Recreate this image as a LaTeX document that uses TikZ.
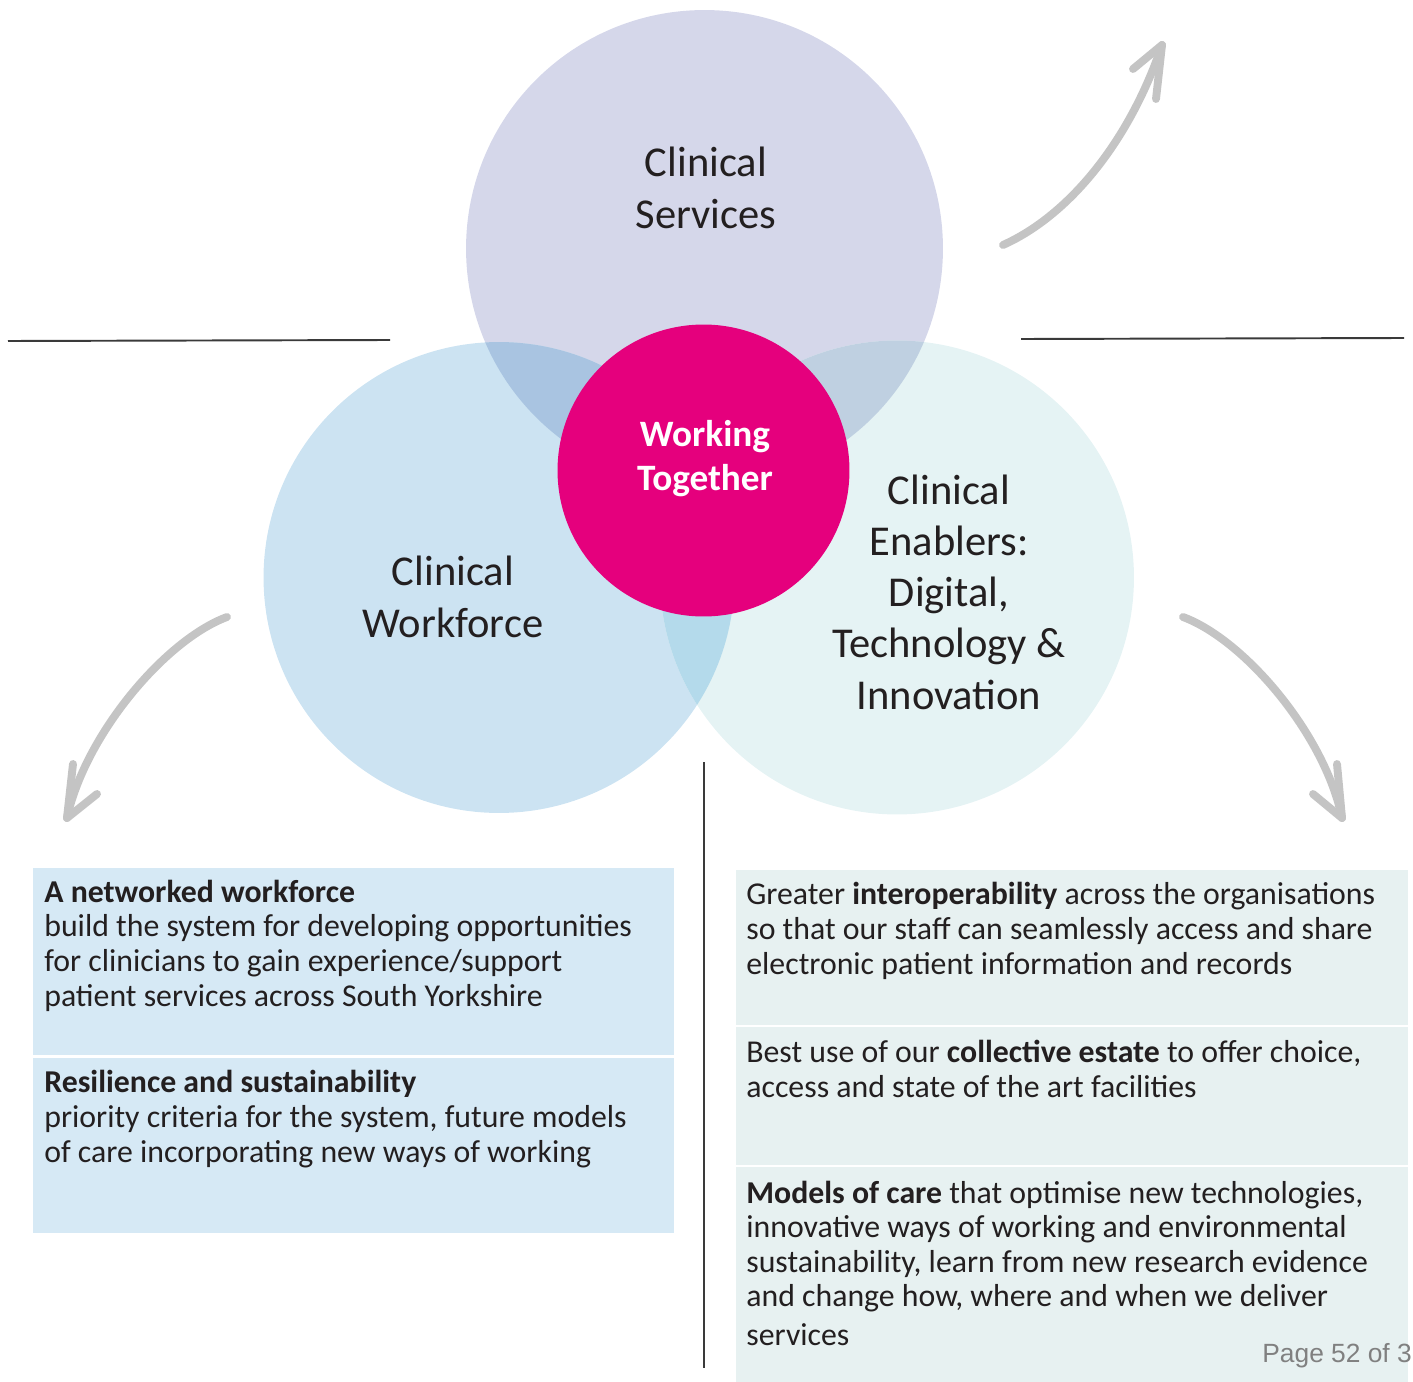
\documentclass[tikz,border=0pt]{standalone}
\usepackage{fontspec}
\setmainfont{Carlito}
\newfontfamily\pagefont{Liberation Sans}
\definecolor{services}{HTML}{D5D7EA}
\definecolor{workforce}{HTML}{CCE3F2}
\definecolor{enablers}{HTML}{E5F3F4}
\definecolor{servwork}{HTML}{A9C4E1}
\definecolor{servenab}{HTML}{BFD0E1}
\definecolor{workenab}{HTML}{B4DAEB}
\definecolor{hubpink}{HTML}{E5007D}
\definecolor{leftpanel}{HTML}{D6E9F5}
\definecolor{rightpanel}{HTML}{E7F1F1}
\definecolor{ink}{HTML}{231F20}
\definecolor{arrowgray}{HTML}{C4C4C4}
\definecolor{rulegray}{HTML}{3A3A3A}
\definecolor{pagegray}{HTML}{808080}
\tikzset{ disc/.style = { circle
                        , inner sep    = 0pt
                        , minimum size = #1
                        },
          circtext/.style = { align = center
                            , text  = ink
                            , font  = \fontsize{24.2pt}{29.2pt}\selectfont
                            },
          boxtext/.style = { anchor    = base west
                           , align     = left
                           , inner sep = 0pt
                           , text      = ink
                           , font      = \fontsize{18.1pt}{19.7pt}\selectfont
                           },
          sweep/.style = { draw       = arrowgray
                         , line width = 4.5pt
                         , line cap   = round
                         , line join  = round
                         },
          rule/.style = { draw = rulegray, line width = 1.1pt }
        }
\begin{document}
\begin{tikzpicture}[x=0.02cm, y=-0.02cm]
  \useasboundingbox (0,0) rectangle (1413,1382);
  \node[disc=9.54cm, fill=services]  (serv) at (704.5,248.5) {};
  \node[disc=9.42cm, fill=workforce] (work) at (499,577.5) {};
  \node[disc=9.48cm, fill=enablers]  (enab) at (897,577.5) {};
  \foreach \a/\ra/\b/\rb/\c in {serv/4.77cm/work/4.71cm/servwork,
                                serv/4.77cm/enab/4.74cm/servenab,
                                work/4.71cm/enab/4.74cm/workenab} {
    \begin{scope}
      \clip (\a.center) circle[radius=\ra];
      \fill[\c] (\b.center) circle[radius=\rb];
    \end{scope}
  }
  \node[disc=5.84cm, fill=hubpink] (hub) at (703.5,470.5) {};

  \node[circtext] (servlabel) at (706,188) {Clinical\\Services};
  \node[circtext] (worklabel) at (453,597) {Clinical\\Workforce};
  \node[circtext] (enablabel) at (949,592)
       {Clinical\\Enablers:\\Digital,\\Technology \&\\Innovation};
  \node[align=center, text=white, font=\bfseries\fontsize{21.2pt}{25pt}\selectfont]
       (hublabel) at (705,459) {Working\\Together};

  % sweeping arrows
  \coordinate (upfrom) at (1003,245);  \coordinate (uptip) at (1162,45);
  \coordinate (lfrom)  at (227,617);   \coordinate (ltip)  at (67,818);
  \coordinate (rfrom)  at (1183,617);  \coordinate (rtip)  at (1342,818);
  \draw[sweep] (upfrom) .. controls (1070,215) and (1130,140) .. (uptip);
  \draw[sweep] (1133,69) -- (uptip) -- (1156,99);
  \draw[sweep] (lfrom) .. controls (165,640) and (85,735) .. (ltip);
  \draw[sweep] (73,764) -- (ltip) -- (97,794);
  \draw[sweep] (rfrom) .. controls (1245,640) and (1325,735) .. (rtip);
  \draw[sweep] (1337,764) -- (rtip) -- (1313,794);

  % rules
  \coordinate (lr1) at (8,341);    \coordinate (lr2) at (390,340);
  \coordinate (rr1) at (1021,339); \coordinate (rr2) at (1404,338);
  \coordinate (vr1) at (704,762);  \coordinate (vr2) at (704,1368);
  \draw[rule] (lr1) -- (lr2);
  \draw[rule] (rr1) -- (rr2);
  \draw[rulegray, line width=0.8pt] (vr1) -- (vr2);

  % panels
  \foreach \t/\b in {868/1055, 1058/1233}
    \fill[leftpanel] (33,\t) rectangle (674,\b);
  \foreach \t/\b in {870/1025, 1027/1165, 1167/1382}
    \fill[rightpanel] (736,\t) rectangle (1408,\b);

  % text nodes sit on the baseline of their last line
  \node[boxtext] (network) at (44,1006)
       {\textbf{A networked workforce}\\
        build the system for developing opportunities\\
        for clinicians to gain experience/support\\
        patient services across South Yorkshire};
  \node[boxtext] (resilience) at (44,1162)
       {\textbf{Resilience and sustainability}\\
        priority criteria for the system, future models\\
        of care incorporating new ways of working};
  \node[boxtext] (interop) at (746,974)
       {Greater \textbf{interoperability} across the organisations\\
        so that our staff can seamlessly access and share\\
        electronic patient information and records};
  \node[boxtext] (estate) at (746,1097)
       {Best use of our \textbf{collective estate} to offer choice,\\
        access and state of the art facilities};
  \node[boxtext] (models) at (746,1345)
       {\textbf{Models of care} that optimise new technologies,\\
        innovative ways of working and environmental\\
        sustainability, learn from new research evidence\\
        and change how, where and when we deliver\\[2pt]
        services};

  \begin{scope}
    \clip (0,0) rectangle (1413,1382);
    \node[anchor=base west, inner sep=0pt, text=pagegray,
          font=\pagefont\fontsize{15pt}{17pt}\selectfont]
         (pagenum) at (1262,1362) {Page 52 of 3};
  \end{scope}
\end{tikzpicture}
\end{document}
